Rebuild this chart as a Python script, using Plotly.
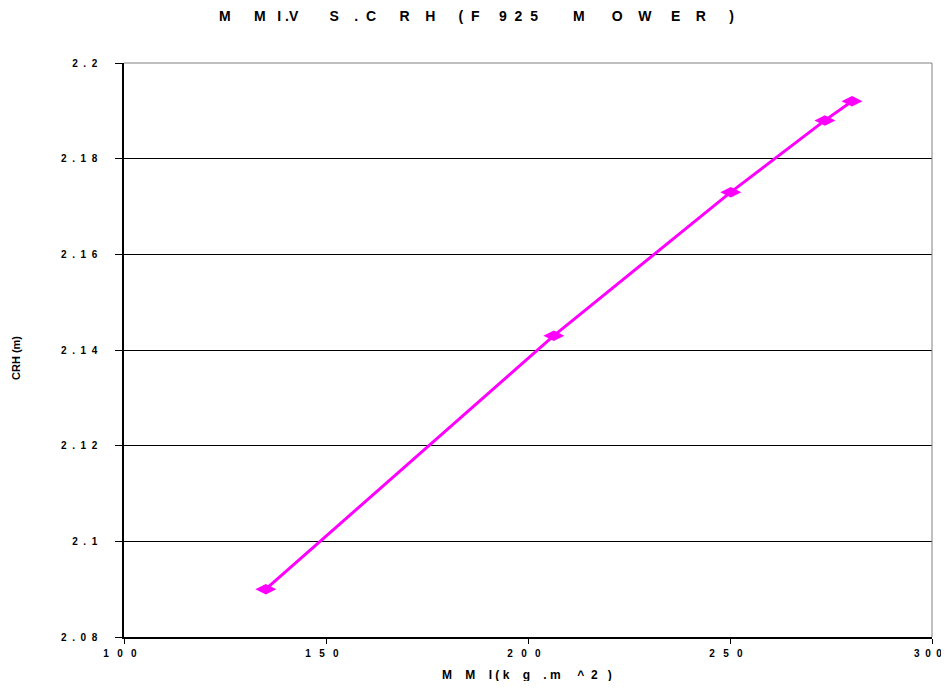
import plotly.graph_objects as go

mmi = [135.1, 206.4, 250.2, 273.5, 280.2]
crh = [2.090, 2.143, 2.173, 2.188, 2.192]

y_ticks = [2.08, 2.10, 2.12, 2.14, 2.16, 2.18, 2.20]
y_ticktext = ["2 . 0 8", "2 . 1", "2 . 1 2", "2 . 1 4", "2 . 1 6", "2 . 1 8", "2 . 2"]
x_ticks = [100, 150, 200, 250, 300]
x_ticktext = ["1 0 0", "1 5 0", "2 0 0", "2 5 0", "3 0 0"]

NB = "\u00a0"


def gaps(parts):
    # parts: alternating text and number of non-breaking spaces
    out = ""
    for p in parts:
        out += NB * p if isinstance(p, int) else p
    return out


title_text = gaps(["M", 6, "M", 3, "I", 1, ".V", 8, "S", 4, ".", 2, "C", 6, "R", 4, "H", 6,
                   "(", 2, "F", 5, "9", 2, "2", 2, "5", 9, "M", 7, "O", 4, "W", 5, "E", 4, "R", 6, ")"])
x_title = gaps(["M", 4, "M", 4, "I", 1, "(", 1, "k", 4, "g", 4, ".", 1, "m", 5, "^", 2, "2", 3, ")"])
y_title = "CRH (m)"

fig = go.Figure()
fig.add_trace(go.Scatter(
    x=mmi, y=crh, mode="lines+markers",
    line=dict(color="#FF00FF", width=3),
    marker=dict(symbol="diamond-wide", size=15, color="#FF00FF"),
    showlegend=False,
))

FONT = "Liberation Sans, Arial, sans-serif"
OFF = 8  # page body margin on every side

# plot area in page pixels: x 124..932, y 63..637; keep the page free of scrolling
W, H = 949 - 2 * OFF, 689 - 2 * OFF

x_labels = []
for i, t in enumerate(x_ticktext):
    sp = 2 if i == len(x_ticktext) - 1 else 3  # last label kept inside the page edge
    x_labels.append("<b>%s</b>" % t.replace(" ", NB * sp))

fig.update_layout(
    width=W, height=H,
    margin=dict(l=124 - OFF, r=(OFF + W) - 932, t=63 - OFF, b=(OFF + H) - 637, autoexpand=False),
    paper_bgcolor="white", plot_bgcolor="white",
    xaxis=dict(range=[100, 300], tickvals=x_ticks, ticktext=x_labels,
               showgrid=False, zeroline=False, showline=True, linecolor="black", linewidth=1.5,
               ticks="outside", ticklen=5, tickcolor="black", automargin=False,
               ticklabelstandoff=1, ticklabelshift=-4, ticklabeloverflow="allow",
               tickfont=dict(family=FONT, size=10, color="black")),
    yaxis=dict(range=[2.08, 2.20], tickvals=y_ticks,
               ticktext=["<b>%s</b>" % t.replace(" ", NB * 2) for t in y_ticktext],
               showgrid=True, gridcolor="black", gridwidth=1, zeroline=False,
               showline=True, linecolor="black", linewidth=1.5,
               ticks="outside", ticklen=7, tickcolor="black", automargin=False,
               ticklabelstandoff=16,
               tickfont=dict(family=FONT, size=10, color="black")),
    annotations=[
        dict(text="<b>" + title_text + "</b>", xref="paper", yref="paper",
             x=(476 - 124) / 808, y=1 + (63 - 16) / 574, xanchor="center", yanchor="middle",
             showarrow=False, font=dict(family=FONT, size=14, color="black")),
        dict(text="<b>" + x_title + "</b>", xref="paper", yref="paper",
             x=(526.5 - 124) / 808, y=-(675 - 637) / 574, xanchor="center", yanchor="middle",
             showarrow=False, font=dict(family=FONT, size=12, color="black")),
        dict(text="<b>" + y_title + "</b>", xref="paper", yref="paper",
             x=-(124 - 16) / 808, y=(637 - 358) / 574, xanchor="center", yanchor="middle",
             textangle=-90, showarrow=False, font=dict(family=FONT, size=11, color="black")),
    ],
)

fig.add_shape(type="line", xref="paper", yref="paper", x0=0, x1=1, y0=1, y1=1,
              line=dict(color="#808080", width=1))
fig.add_shape(type="line", xref="paper", yref="paper", x0=1, x1=1, y0=0, y1=1,
              line=dict(color="#808080", width=1))

fig.write_html("out.html")
